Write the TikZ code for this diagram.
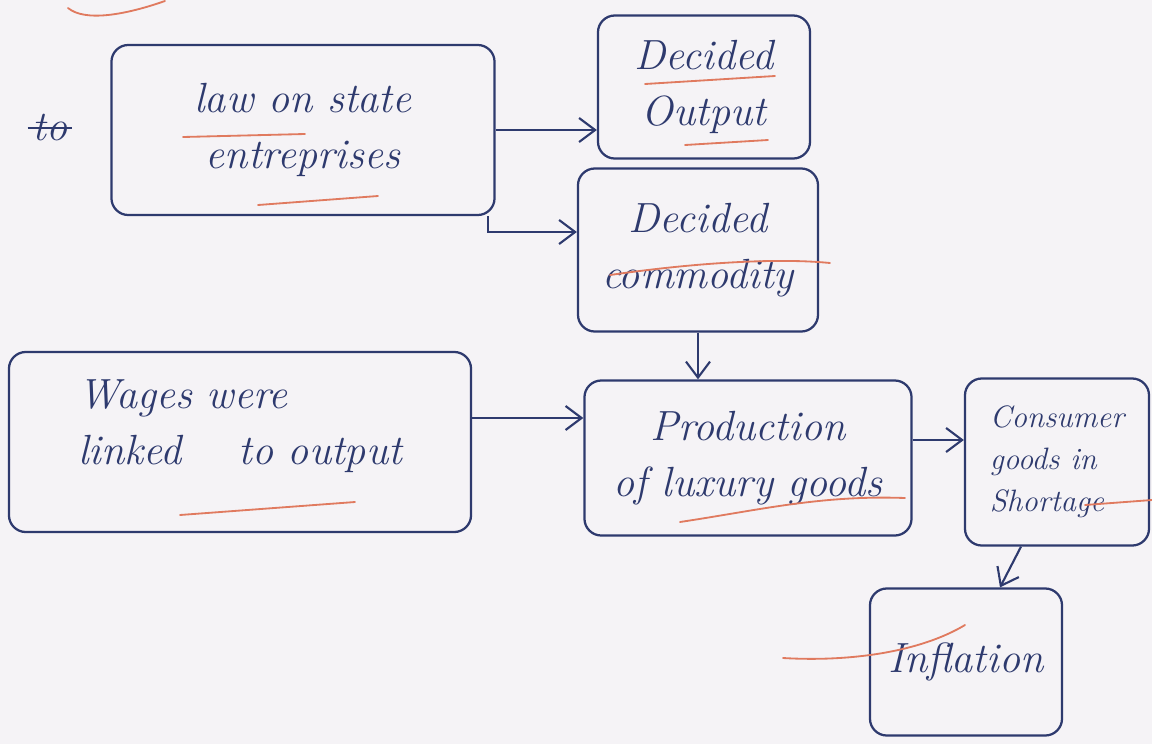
\documentclass[tikz,border=0pt]{standalone}
\usetikzlibrary{arrows.meta}
\definecolor{ink}{HTML}{2E3A6E}
\definecolor{redink}{HTML}{E07A5F}
\definecolor{paper}{HTML}{F5F3F6}
\tikzset{
  box/.style={draw=ink, line width=1.6pt, rounded corners=12pt, text=ink, align=center, inner sep=4pt},
  arr/.style={draw=ink, line width=1.5pt, -{Straight Barb[length=4mm,width=6mm]}},
  hl/.style={draw=redink, line width=1.3pt, line cap=round},
  big/.style={font=\fontsize{30}{40}\selectfont\itshape},
  small/.style={font=\fontsize{22}{30}\selectfont\itshape}
}
\begin{document}
\begin{tikzpicture}[x=0.025cm,y=-0.025cm]
\useasboundingbox (0,0) rectangle (1152,744);
\fill[paper] (0,0) rectangle (1152,744);

\node[box,big,minimum width=9.575cm,minimum height=4.25cm] (law) at (303,130) {law on state\\ entreprises};
\node[box,big,minimum width=5.3cm,minimum height=3.575cm] (out) at (704,87) {Decided\\ Output};
\node[box,big,minimum width=6.0cm,minimum height=4.075cm] (com) at (698,250) {Decided\\ commodity};
\node[box,big,minimum width=11.55cm,minimum height=4.5cm,align=left,text depth=1.0cm] (wag) at (240,442) {Wages were\\ linked \quad to output};
\node[box,big,minimum width=8.175cm,minimum height=3.875cm] (prod) at (748,458) {Production\\ of luxury goods};
\node[box,small,minimum width=4.6cm,minimum height=4.175cm,align=left] (cons) at (1057,462) {Consumer\\ goods in\\ Shortage};
\node[box,big,minimum width=4.8cm,minimum height=3.675cm] (inf) at (966,662) {Inflation};

\node[text=ink,big] (to) at (50,128) {to};
\draw[ink,line width=1.4pt] (to.west) -- (to.east);

\draw[arr] (law.east) -- (law.east -| out.west);
\draw[arr] ([xshift=-0.2cm]law.south east) |- ([yshift=0.45cm]com.west);
\draw[arr] (com.south) -- (com.south |- prod.north);
\draw[arr] ([yshift=0.6cm]wag.east) -- ([yshift=0.6cm]wag.east -| prod.west);
\draw[arr] ([yshift=0.45cm]prod.east) -- ([yshift=0.45cm]prod.east -| cons.west);
\draw[arr] ([xshift=-0.9cm]cons.south) -- ([xshift=0.85cm]inf.north);

\draw[hl] (68,8) .. controls (85,22) and (125,15) .. (165,1);
\draw[hl] (183,137) -- (305,134);
\draw[hl] (258,205) -- (378,196);
\draw[hl] (645,84) -- (775,76);
\draw[hl] (685,145) -- (768,140);
\draw[hl] (610,275) .. controls (700,262) and (780,258) .. (830,263);
\draw[hl] (180,515) -- (355,502);
\draw[hl] (680,522) .. controls (760,510) and (820,495) .. (905,498);
\draw[hl] (1085,505) -- (1152,500);
\draw[hl] (783,658) .. controls (850,662) and (920,652) .. (965,625);
\end{tikzpicture}
\end{document}
